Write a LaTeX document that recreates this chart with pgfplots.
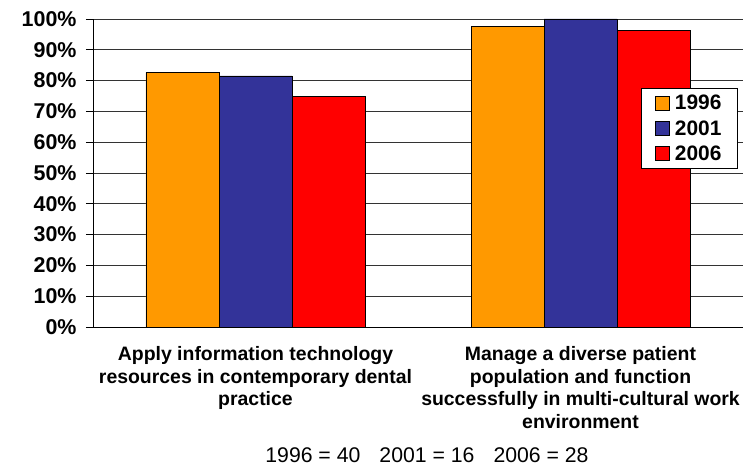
\documentclass[border=0pt]{standalone}
\usepackage{fontspec}
\setmainfont{Liberation Sans}
\usepackage{pgfplots}
\pgfplotsset{compat=1.18}

\definecolor{c1996}{HTML}{FF9900}
\definecolor{c2001}{HTML}{333399}
\definecolor{c2006}{HTML}{FF0000}

\begin{document}
\begin{tikzpicture}
\begin{axis}[
    scale only axis,
    width=650bp, height=308bp,
    ybar=0pt, bar width=73bp,
    xmin=-0.5, xmax=1.5,
    ymin=0, ymax=100,
    axis x line*=bottom, axis y line*=left,
    axis line style={black, line width=0.8bp, -},
    ytick={0,10,...,100},
    yticklabels={0\%,10\%,20\%,30\%,40\%,50\%,60\%,70\%,80\%,90\%,100\%},
    y tick label style={font=\fontsize{21.5}{24}\selectfont\bfseries, xshift=-6bp},
    tick align=outside,
    major tick length=7bp,
    tick style={black, line width=0.8bp},
    ymajorgrids,
    grid style={black!80, line width=0.8bp},
    xtick={0,1},
    xticklabels={{Apply information technology\\resources in contemporary dental\\practice},
                 {Manage a diverse patient\\population and function\\successfully in multi-cultural work\\environment}},
    x tick label style={font=\fontsize{19.5}{22.7}\selectfont\bfseries, align=center, yshift=-9bp},
    major x tick style={draw=none},
    extra x ticks={-0.5,0.5,1.5},
    extra x tick labels={},
    extra x tick style={major tick length=5bp, tick style={draw=black, line width=0.8bp}},
    legend style={at={(0.992,0.776)}, anchor=north east, draw=black, line width=0.8bp,
        font=\fontsize{21}{24}\selectfont\bfseries, inner xsep=14bp, inner ysep=5bp,
        row sep=5bp},
    legend image code/.code={\draw[#1, line width=0.8bp] (0bp,-7bp) rectangle (14bp,7bp);
        \path (17bp,0bp);},
    legend cell align=left,
]
\addplot[fill=c1996, draw=black, line width=0.8bp] coordinates {(0,82.7) (1,97.5)};
\addplot[fill=c2001, draw=black, line width=0.8bp] coordinates {(0,81.5) (1,100)};
\addplot[fill=c2006, draw=black, line width=0.8bp] coordinates {(0,74.9) (1,96.3)};
\legend{1996,2001,2006}
\coordinate (o) at (rel axis cs:0,0);
\end{axis}
\node[font=\fontsize{21.3}{24}\selectfont] at ([xshift=334bp,yshift=-128bp]o)
    {1996 = 40\hspace{0.9em}2001 = 16\hspace{0.9em}2006 = 28};
\pgfresetboundingbox
\path (o) ++(-93bp,-141bp) rectangle ++(743bp,468bp);
\end{tikzpicture}
\end{document}
